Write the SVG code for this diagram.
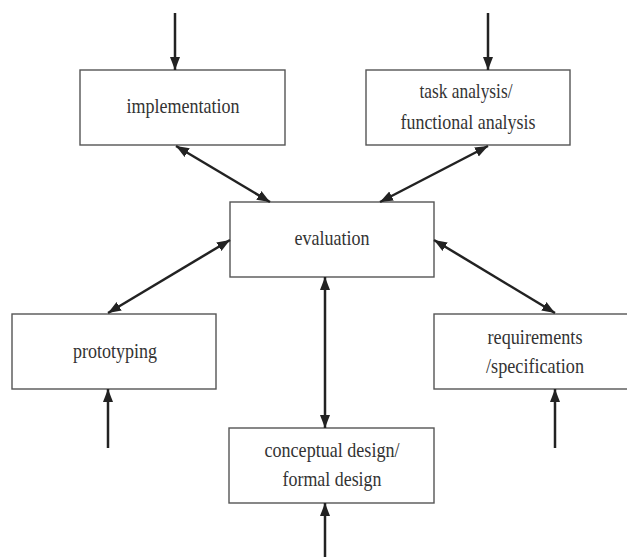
<svg xmlns="http://www.w3.org/2000/svg" width="627" height="557" viewBox="0 0 627 557">
<style>
.box{fill:#fff;stroke:#555;stroke-width:1.4}
.lbl{font-family:"Liberation Serif","Times New Roman",serif;font-size:21px;fill:#333;text-anchor:middle}
.con{stroke:#222;stroke-width:2.5;fill:none}
.one{marker-end:url(#ah)}
.two{marker-start:url(#ah);marker-end:url(#ah)}
</style>
<defs>
<marker id="ah" markerUnits="userSpaceOnUse" markerWidth="14" markerHeight="12" refX="13" refY="5" orient="auto-start-reverse" viewBox="0 0 14 10">
<path d="M0,0 L13,5 L0,10 z" fill="#222"/>
</marker>
</defs>
<rect width="627" height="557" fill="#fff"/>
<g id="implementation"><rect class="box" x="80" y="70" width="205" height="75"/><text class="lbl" x="183" y="113" textLength="113" lengthAdjust="spacingAndGlyphs">implementation</text></g>
<g id="task-analysis"><rect class="box" x="366" y="70" width="204" height="75"/><text class="lbl" x="466" y="98" textLength="93" lengthAdjust="spacingAndGlyphs">task analysis/</text><text class="lbl" x="468" y="129" textLength="135" lengthAdjust="spacingAndGlyphs">functional analysis</text></g>
<g id="evaluation"><rect class="box" x="230" y="202" width="204" height="75"/><text class="lbl" x="332" y="245" textLength="75" lengthAdjust="spacingAndGlyphs">evaluation</text></g>
<g id="prototyping"><rect class="box" x="12" y="314" width="204" height="75"/><text class="lbl" x="115" y="358" textLength="84" lengthAdjust="spacingAndGlyphs">prototyping</text></g>
<g id="requirements"><rect class="box" x="434" y="314" width="204" height="75"/><text class="lbl" x="535" y="344" textLength="95" lengthAdjust="spacingAndGlyphs">requirements</text><text class="lbl" x="535" y="373" textLength="98" lengthAdjust="spacingAndGlyphs">/specification</text></g>
<g id="conceptual-design"><rect class="box" x="229" y="428" width="205" height="75"/><text class="lbl" x="332" y="457" textLength="135" lengthAdjust="spacingAndGlyphs">conceptual design/</text><text class="lbl" x="332" y="486" textLength="99" lengthAdjust="spacingAndGlyphs">formal design</text></g>
<g id="connectors">
<line class="con one" x1="175" y1="13" x2="175" y2="70"/>
<line class="con one" x1="488" y1="13" x2="488" y2="70"/>
<line class="con two" x1="176" y1="146" x2="270" y2="202"/>
<line class="con two" x1="488" y1="146" x2="380" y2="202"/>
<line class="con two" x1="108" y1="313" x2="230" y2="240"/>
<line class="con two" x1="434" y1="240" x2="555" y2="313"/>
<line class="con two" x1="325" y1="277" x2="325" y2="428"/>
<line class="con one" x1="108" y1="448" x2="108" y2="389"/>
<line class="con one" x1="555" y1="448" x2="555" y2="389"/>
<line class="con one" x1="325" y1="557" x2="325" y2="503"/>
</g>
</svg>
